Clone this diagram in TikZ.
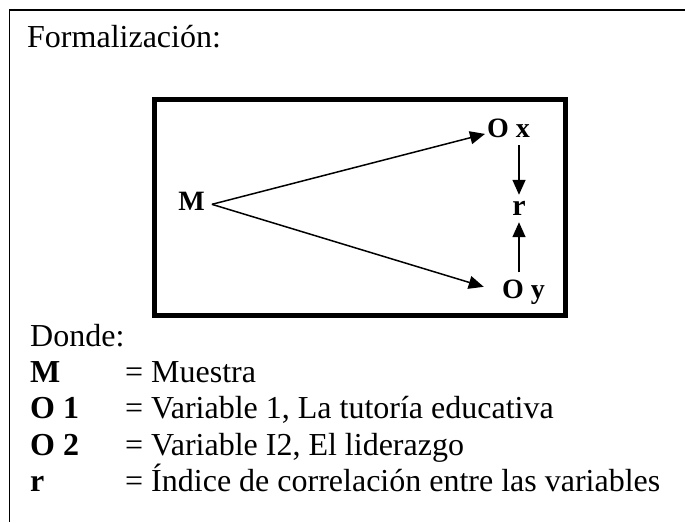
\documentclass[tikz,border=0pt]{standalone}
\usepackage{fontspec}
\setmainfont{Liberation Serif}
\usetikzlibrary{arrows.meta}

\begin{document}
\begin{tikzpicture}[x=1pt,y=-1pt,
    texto/.style={anchor=base west, inner sep=0pt, font=\fontsize{32}{38}\selectfont},
    etiq/.style={inner sep=2pt, font=\fontsize{28}{32}\selectfont\bfseries},
    flecha/.style={-{Triangle[length=15pt,width=13pt]}, line width=1.5pt}]

	\useasboundingbox (0,0) rectangle (685,522);

	% Marco exterior (abierto a la derecha y abajo)
	\draw[line width=1.2pt] (685,10) -- (9.5,10) -- (9.5,522);
	\node[texto] (titulo) at (27,47) {Formalización:};

	% Recuadro del diseno
	\draw[line width=4.5pt] (154.5,99.5) rectangle (565.5,315.5);

	% Nodos del diseno correlacional
	\node[etiq, anchor=base, inner xsep=7pt, text depth=7pt] (M) at (191.5,210) {M};
	\node[etiq, anchor=base west] (Ox) at (485,137) {O x};
	\node[etiq, anchor=base west] (Oy) at (500,298) {O y};
	\node[etiq, inner sep=0pt, minimum height=27pt, font=\fontsize{30}{34}\selectfont\bfseries] (r) at (519,208.5) {r};

	% Flechas
	\draw[flecha] (M.east) -- (Ox);
	\draw[flecha, shorten >=17pt] (M.east) -- (Oy.west);
	\draw[flecha, shorten <=6pt] (Ox.south -| r.north) -- (r.north);
	\draw[flecha, shorten <=5pt] (Oy.north -| r.south) -- (r.south);

	% Leyenda
	\node[texto] (donde) at (30,346) {Donde:};
	\foreach \clave/\desc/\y/\i in {M/Muestra/382/1, {O 1}/{Variable 1, La tutoría educativa}/418/2, {O 2}/{Variable I2, El liderazgo}/455/3, r/{Índice de correlación entre las variables}/491/4}{
		\node[texto, font=\fontsize{32}{38}\selectfont\bfseries] (clave\i) at (30,\y) {\clave};
		\node[texto] (desc\i) at (125,\y) {= \desc};
	}

\end{tikzpicture}
\end{document}
